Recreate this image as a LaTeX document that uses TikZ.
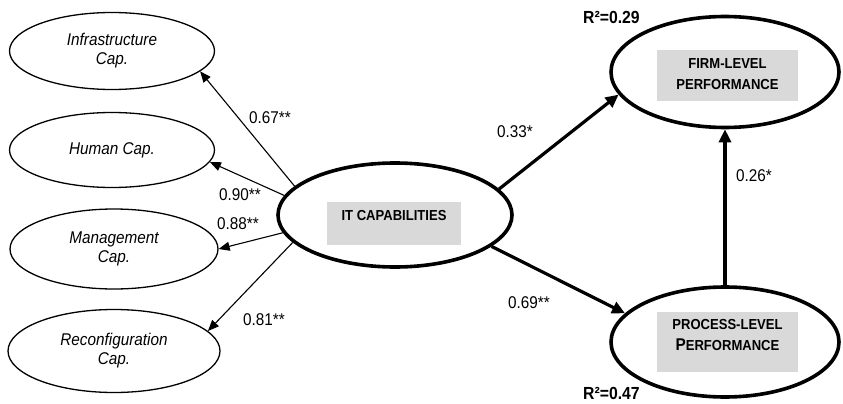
\documentclass[tikz,border=0pt]{standalone}
\usepackage{fontspec}
\setmainfont{Liberation Sans}[FakeStretch=0.9]
\usetikzlibrary{shapes.geometric,arrows.meta}
\definecolor{boxgray}{RGB}{217,217,217}
\tikzset{
  smallell/.style={draw, ellipse, line width=1.3pt, inner sep=0pt, align=center,
     font=\fontsize{17}{19}\selectfont\itshape},
  bigell/.style={draw, ellipse, line width=3.6pt, inner sep=0pt},
  graybox/.style={fill=boxgray, inner sep=0pt},
  boxtext/.style={font=\fontsize{14.5}{21}\selectfont\bfseries, align=center, inner sep=0pt},
  coef/.style={font=\fontsize{17}{19}\selectfont, inner sep=0pt},
  rsq/.style={font=\fontsize{17.5}{19}\selectfont\bfseries, inner sep=0pt, anchor=west},
  thinarrow/.style={line width=1.1pt, -{Triangle[length=11pt,width=9pt]}},
  thickarrow/.style={line width=3.2pt, -{Triangle[length=13pt,width=12pt]}}
}
\begin{document}
\begin{tikzpicture}[x=1pt,y=-1pt]
\useasboundingbox (0,0) rectangle (843,404);
% small ellipses
\node[smallell, minimum width=205pt, minimum height=77pt] (infra) at (112,51) {Infrastructure\\Cap.};
\node[smallell, minimum width=205pt, minimum height=75pt] (human) at (112,150) {Human Cap.};
\node[smallell, minimum width=208pt, minimum height=80pt] (mgmt) at (114,249) {Management\\Cap.};
\node[smallell, minimum width=212pt, minimum height=83pt] (reconf) at (114,351) {Reconfiguration\\Cap.};
% big ellipses
\node[bigell, minimum width=234pt, minimum height=104pt] (it) at (395,215) {};
\node[graybox, minimum width=134pt, minimum height=43pt] (itbox) at (394,223.5) {};
\node[boxtext] (ittext) at (394,216) {IT CAPABILITIES};
\node[bigell, minimum width=228pt, minimum height=111pt] (firm) at (725,72) {};
\node[graybox, minimum width=141pt, minimum height=51pt] (firmbox) at (727.5,75.5) {};
\node[boxtext] (firmtext) at (727.5,74) {FIRM-LEVEL\\PERFORMANCE};
\node[bigell, minimum width=228pt, minimum height=110pt] (proc) at (725,342) {};
\node[graybox, minimum width=141pt, minimum height=60pt] (procbox) at (727.5,342) {};
\node[boxtext] (proctext) at (727.5,335) {PROCESS-LEVEL\\{\fontsize{17}{19}\selectfont P}ERFORMANCE};
% R squared
\node[rsq] (r1) at (583,17) {R²=0.29};
\node[rsq] (r2) at (583,393) {R²=0.47};
% thin arrows
\draw[thinarrow] (it.164) -- (infra.-13);
\draw[thinarrow] (it.170) -- (human.-7);
\draw[thinarrow] (it.-171) -- (mgmt.0);
\draw[thinarrow] (it.-165) -- (reconf.12);
% thick arrows
\draw[thickarrow] (it.14) -- (firm.-168);
\draw[thickarrow] (it.-18) -- (proc.164);
\draw[thickarrow] (proc.north) -- (firm.south);
% coefficients
\node[coef] (c1) at (270,118) {0.67**};
\node[coef] (c2) at (240,195) {0.90**};
\node[coef] (c3) at (238,224) {0.88**};
\node[coef] (c4) at (264,320) {0.81**};
\node[coef] (c5) at (515,132) {0.33*};
\node[coef] (c6) at (529,303) {0.69**};
\node[coef] (c7) at (754,176) {0.26*};
\end{tikzpicture}
\end{document}
